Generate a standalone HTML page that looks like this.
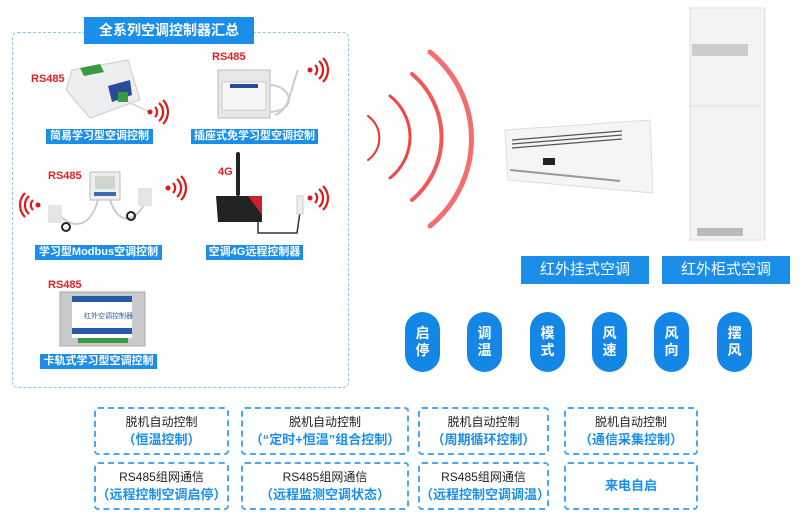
<!DOCTYPE html>
<html><head><meta charset="utf-8"><style>
body{margin:0;width:800px;height:520px;background:#fff;position:relative;overflow:hidden;font-family:"Liberation Sans","Noto Sans CJK SC",sans-serif}
.a{position:absolute}
.ban{position:absolute;background:#1a8ee8;color:#fff;font-size:11px;font-weight:bold;text-align:center;line-height:15px;height:15px}
.rs{position:absolute;color:#e02020;font-weight:bold;font-size:11px}
.big{position:absolute;background:#1a8ee8;color:#fff;font-size:15px;text-align:center;line-height:28px;height:28px;width:128px;top:256px}
.pill{position:absolute;top:312px;width:35px;height:60px;border-radius:18px;background:#1487e6;color:#fff;font-weight:bold;font-size:14px;line-height:17px;text-align:center;padding-top:13px;box-sizing:border-box}
.bx{position:absolute;border:2px dashed #4aa8ee;border-radius:4px;box-sizing:border-box;text-align:center;height:48px;white-space:nowrap}
.bx .l1{font-size:12px;color:#222;margin-top:5px;line-height:16px}
.bx .l2{font-size:13px;color:#1a8ee8;font-weight:bold;line-height:19px}
</style></head><body>
<div class="a" style="left:12px;top:32px;width:337px;height:356px;border:1px dashed #8cc6ef;border-radius:6px;box-sizing:border-box"></div>
<div class="ban" style="left:84px;top:17px;width:170px;height:27px;line-height:27px;font-size:14px">全系列空调控制器汇总</div>

<svg class="a" style="left:0;top:0" width="360" height="390">
<defs><g id="w"><circle cx="0" cy="0" r="2.5" fill="#e01818"/><path d="M5,-5 A7,7 0 0 1 5,5 M9,-9 A12,12 0 0 1 9,9 M13,-12 A17,17 0 0 1 13,12" fill="none" stroke="#e01818" stroke-width="2.2"/></g></defs>
<polygon points="72,70 128,60 140,100 90,118 66,90" fill="#eceef0" stroke="#ccc"/>
<polygon points="80,68 100,64 104,72 84,76" fill="#3a9a40"/>
<polygon points="108,86 130,80 132,95 112,102" fill="#2a4a9a"/>
<rect x="118" y="92" width="10" height="10" fill="#3a9a40"/>
<line x1="128" y1="102" x2="150" y2="112" stroke="#ddd" stroke-width="2"/>
<use href="#w" x="150" y="112"/>
<rect x="218" y="70" width="52" height="48" fill="#e6e8ea" stroke="#bbb"/>
<rect x="222" y="82" width="44" height="28" fill="#f6f6f6" stroke="#ccc"/>
<rect x="230" y="84" width="28" height="4" fill="#2a4a9a"/>
<path d="M270,85 C290,85 300,110 270,112 M298,70 C290,90 290,110 275,115" fill="none" stroke="#ccc" stroke-width="2"/>
<use href="#w" x="310" y="70"/>
<rect x="90" y="172" width="30" height="28" fill="#eee" stroke="#bbb"/>
<rect x="95" y="176" width="20" height="13" fill="#cfd6cf"/>
<rect x="94" y="192" width="22" height="4" fill="#3a6ab0"/>
<path d="M98,200 C90,230 70,230 55,210 M110,200 C120,230 140,220 148,195" fill="none" stroke="#ccc" stroke-width="2"/>
<circle cx="66" cy="227" r="4" fill="none" stroke="#222" stroke-width="2"/>
<circle cx="131" cy="216" r="4" fill="none" stroke="#222" stroke-width="2"/>
<rect x="48" y="205" width="14" height="18" fill="#e5e5e5"/>
<rect x="138" y="188" width="14" height="18" fill="#e5e5e5"/>
<g transform="translate(38,205) scale(-1,1)"><use href="#w"/></g>
<use href="#w" x="168" y="188"/>
<rect x="236" y="152" width="4" height="44" rx="2" fill="#222"/>
<polygon points="216,196 262,196 262,222 218,222" fill="#222"/>
<polygon points="248,196 262,196 262,215" fill="#c8222a"/>
<path d="M258,222 L258,233 L297,233 L300,212" fill="none" stroke="#333" stroke-width="1.5"/>
<rect x="297" y="196" width="6" height="18" fill="#eee" stroke="#ccc"/>
<use href="#w" x="310" y="198"/>
<rect x="60" y="292" width="85" height="54" fill="#c8cacc" stroke="#aaa"/>
<rect x="72" y="296" width="60" height="42" fill="#fff"/>
<rect x="72" y="296" width="60" height="6" fill="#2a5aa8"/>
<rect x="72" y="328" width="60" height="6" fill="#2a5aa8"/>
<text x="84" y="318" font-size="7" fill="#2a5aa8" font-family="Noto Sans CJK SC">红外空调控制器</text>
<rect x="78" y="338" width="50" height="5" fill="#3a9a40"/>
</svg>
<div class="rs" style="left:31px;top:73px">RS485</div>
<div class="rs" style="left:212px;top:51px">RS485</div>
<div class="rs" style="left:48px;top:170px">RS485</div>
<div class="rs" style="left:218px;top:166px">4G</div>
<div class="rs" style="left:48px;top:279px">RS485</div>
<div class="ban" style="left:46px;top:129px;width:107px">简易学习型空调控制器</div>
<div class="ban" style="left:191px;top:129px;width:127px">插座式免学习型空调控制器</div>
<div class="ban" style="left:35px;top:245px;width:127px">学习型Modbus空调控制器</div>
<div class="ban" style="left:206px;top:245px;width:97px">空调4G远程控制器</div>
<div class="ban" style="left:40px;top:354px;width:117px">卡轨式学习型空调控制器</div>

<svg class="a" style="left:360px;top:0" width="440" height="260">
<g fill="none" stroke="#ee3030" stroke-linecap="round">
<path d="M8,116 A27,27 0 0 1 8,160" stroke-width="2"/>
<path d="M30,96 A52,52 0 0 1 30,178" stroke-width="3" opacity=".9"/>
<path d="M52,74 A82,82 0 0 1 52,200" stroke-width="4" opacity=".8"/>
<path d="M70,52 A112,112 0 0 1 70,226" stroke-width="5" opacity=".7"/>
</g>
<polygon points="145,130 290,120 293,193 148,180" fill="#f4f5f6" stroke="#ddd"/>
<g stroke="#555" stroke-width="1.2"><line x1="152" y1="140" x2="262" y2="131"/><line x1="152" y1="144" x2="262" y2="135"/><line x1="152" y1="148" x2="262" y2="139"/></g>
<rect x="183" y="158" width="12" height="7" fill="#222"/>
<line x1="150" y1="170" x2="260" y2="181" stroke="#999" stroke-width="2"/>
<rect x="330" y="8" width="75" height="232" fill="#f2f3f4" stroke="#ddd"/>
<rect x="332" y="44" width="56" height="12" fill="#ccc"/>
<line x1="330" y1="106" x2="400" y2="106" stroke="#e2e2e2"/>
<rect x="337" y="228" width="46" height="8" fill="#bbb"/>
</svg>
<div class="big" style="left:521px">红外挂式空调</div>
<div class="big" style="left:662px">红外柜式空调</div>
<div class="pill" style="left:405px">启<br>停</div>
<div class="pill" style="left:467px">调<br>温</div>
<div class="pill" style="left:530px">模<br>式</div>
<div class="pill" style="left:592px">风<br>速</div>
<div class="pill" style="left:654px">风<br>向</div>
<div class="pill" style="left:717px">摆<br>风</div>

<div class="bx" style="left:94px;top:407px;width:135px"><div class="l1">脱机自动控制</div><div class="l2">（恒温控制）</div></div>
<div class="bx" style="left:241px;top:407px;width:168px"><div class="l1">脱机自动控制</div><div class="l2">（“定时+恒温”组合控制）</div></div>
<div class="bx" style="left:418px;top:407px;width:131px"><div class="l1">脱机自动控制</div><div class="l2">（周期循环控制）</div></div>
<div class="bx" style="left:564px;top:407px;width:134px"><div class="l1">脱机自动控制</div><div class="l2">（通信采集控制）</div></div>
<div class="bx" style="left:94px;top:462px;width:135px"><div class="l1">RS485组网通信</div><div class="l2">（远程控制空调启停）</div></div>
<div class="bx" style="left:241px;top:462px;width:168px"><div class="l1">RS485组网通信</div><div class="l2">（远程监测空调状态）</div></div>
<div class="bx" style="left:418px;top:462px;width:131px"><div class="l1">RS485组网通信</div><div class="l2">（远程控制空调调温）</div></div>
<div class="bx" style="left:564px;top:462px;width:134px"><div class="l2" style="line-height:44px">来电自启</div></div>
</body></html>
